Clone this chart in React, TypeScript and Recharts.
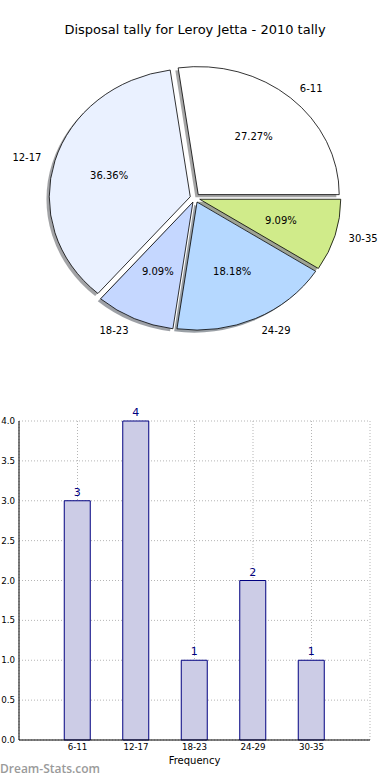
import React from 'react';
import { PieChart, Pie, Cell, BarChart, Bar, XAxis, YAxis, CartesianGrid, LabelList, Tooltip } from 'recharts';

const TITLE = 'Disposal tally for Leroy Jetta - 2010 tally';
const X_LABEL = 'Frequency';
const WATERMARK = 'Dream-Stats.com';
const CATEGORIES = ['6-11', '12-17', '18-23', '24-29', '30-35'];
const COUNTS = [3, 4, 1, 2, 1];
const Y_TICKS = [0, 0.5, 1, 1.5, 2, 2.5, 3, 3.5, 4];

const PIE_COLORS = ['#ffffff', '#eaf1ff', '#c5d7ff', '#b5d8ff', '#d0eb8a'];
const BAR_FILL = '#ccccE6';
const BAR_STROKE = '#000080';
const FONT = '"DejaVu Sans", "Bitstream Vera Sans", sans-serif';

const data = CATEGORIES.map((name, i) => ({ name, value: COUNTS[i] }));

const RY_RATIO = 128 / 141;
const EXPLODE = 0.035;
const SHADOW = 0.02;
const RAD = Math.PI / 180;

function shade(hex: string) {
  const h = (hex || '#ffffff').replace('#', '');
  const r = Math.round(parseInt(h.slice(0, 2), 16) * 0.3);
  const g = Math.round(parseInt(h.slice(2, 4), 16) * 0.3);
  const b = Math.round(parseInt(h.slice(4, 6), 16) * 0.3);
  return `rgb(${r},${g},${b})`;
}

function geom(p: any) {
  const rx = p.outerRadius;
  const ry = rx * RY_RATIO;
  const m = p.midAngle * RAD;
  const ox = p.cx + EXPLODE * rx * Math.cos(m);
  const oy = p.cy - EXPLODE * ry * Math.sin(m);
  return { rx, ry, ox, oy, m };
}

function wedgePath(cx: number, cy: number, rx: number, ry: number, a0: number, a1: number) {
  const x0 = cx + rx * Math.cos(a0 * RAD);
  const y0 = cy - ry * Math.sin(a0 * RAD);
  const x1 = cx + rx * Math.cos(a1 * RAD);
  const y1 = cy - ry * Math.sin(a1 * RAD);
  const large = Math.abs(a1 - a0) > 180 ? 1 : 0;
  return `M${cx},${cy}L${x0},${y0}A${rx},${ry} 0 ${large} 0 ${x1},${y1}Z`;
}

const ShadowShape = (p: any) => {
  const { rx, ry, ox, oy } = geom(p);
  return (
    <path
      d={wedgePath(ox - SHADOW * rx, oy + SHADOW * ry, rx, ry, p.startAngle, p.endAngle)}
      fill={shade(p.fill)}
      fillOpacity={0.5}
      stroke="none"
    />
  );
};

const WedgeShape = (p: any) => {
  const { rx, ry, ox, oy } = geom(p);
  return (
    <path
      d={wedgePath(ox, oy, rx, ry, p.startAngle, p.endAngle)}
      fill={p.fill}
      stroke="#000"
      strokeWidth={0.8}
      strokeLinejoin="round"
    />
  );
};

const PieLabels = (p: any) => {
  const { rx, ry, m } = geom(p);
  const c = Math.cos(m);
  const s = Math.sin(m);
  const nd = 1.1 + EXPLODE;
  const pd = 0.6 + EXPLODE;
  return (
    <g>
      <text
        x={p.cx + nd * rx * c}
        y={p.cy - nd * ry * s}
        textAnchor={c >= 0 ? 'start' : 'end'}
        dominantBaseline="central"
        fontSize={10}
        fontFamily={FONT}
        fill="#000"
      >
        {p.name}
      </text>
      <text
        x={p.cx + pd * rx * c}
        y={p.cy - pd * ry * s}
        textAnchor="middle"
        dominantBaseline="central"
        fontSize={10}
        fontFamily={FONT}
        fill="#000"
      >
        {`${(p.percent * 100).toFixed(2)}%`}
      </text>
    </g>
  );
};

export default function App() {
  return (
    <div style={{ position: 'absolute', left: 0, top: 0, width: 390, height: 780, background: '#fff', fontFamily: FONT }}>
      <div
        style={{
          position: 'absolute',
          left: 0,
          top: 22,
          width: 390,
          textAlign: 'center',
          fontSize: 13,
          lineHeight: '16px',
          color: '#000',
        }}
      >
        {TITLE}
      </div>
      <div style={{ position: 'absolute', left: 0, top: 0 }}>
        <PieChart width={390} height={380} margin={{ top: 0, right: 0, bottom: 0, left: 0 }}>
          <Tooltip defaultIndex={0} content={() => null} cursor={false} />
          <Pie
            data={data}
            dataKey="value"
            nameKey="name"
            cx={195}
            cy={198}
            outerRadius={141}
            startAngle={0}
            endAngle={360}
            isAnimationActive={false}
            shape={ShadowShape}
            activeShape={ShadowShape}
            inactiveShape={ShadowShape}
            label={false}
            labelLine={false}
          >
            {data.map((d, i) => (
              <Cell key={d.name} fill={PIE_COLORS[i]} />
            ))}
          </Pie>
          <Pie
            data={data}
            dataKey="value"
            nameKey="name"
            cx={195}
            cy={198}
            outerRadius={141}
            startAngle={0}
            endAngle={360}
            isAnimationActive={false}
            shape={WedgeShape}
            activeShape={WedgeShape}
            inactiveShape={WedgeShape}
            label={PieLabels}
            labelLine={false}
          >
            {data.map((d, i) => (
              <Cell key={d.name} fill={PIE_COLORS[i]} />
            ))}
          </Pie>
        </PieChart>
      </div>
      <div style={{ position: 'absolute', left: 0, top: 400 }}>
        <BarChart width={390} height={380} data={data} margin={{ top: 21, right: 20, left: 0, bottom: 0 }}>
          <CartesianGrid stroke="#b5b5b5" strokeDasharray="1 2" />
          <XAxis
            dataKey="name"
            height={40}
            padding={{ left: 29.25, right: 29.25 }}
            interval={0}
            tickLine={false}
            tickSize={2}
            tickMargin={2}
            axisLine={{ stroke: '#000' }}
            tick={{ fontSize: 8.7, fill: '#000', fontFamily: FONT }}
            label={{ value: X_LABEL, position: 'insideBottom', offset: 16, fontSize: 10, fill: '#000', fontFamily: FONT }}
          />
          <XAxis
            xAxisId="top"
            orientation="top"
            dataKey="name"
            height={0}
            padding={{ left: 29.25, right: 29.25 }}
            tick={false}
            tickLine={false}
            axisLine={{ stroke: '#000' }}
          />
          <YAxis
            domain={[0, 4]}
            ticks={Y_TICKS}
            interval={0}
            width={19}
            tickFormatter={(v: number) => v.toFixed(1)}
            tickLine={false}
            tickSize={2}
            tickMargin={2}
            axisLine={{ stroke: '#000' }}
            tick={{ fontSize: 8.7, fill: '#000', fontFamily: FONT }}
          />
          <YAxis
            yAxisId="right"
            orientation="right"
            width={0}
            domain={[0, 4]}
            tick={false}
            tickLine={false}
            axisLine={{ stroke: '#000' }}
          />
          <Bar dataKey="value" fill={BAR_FILL} stroke={BAR_STROKE} strokeWidth={1} barSize={26} isAnimationActive={false}>
            <LabelList dataKey="value" position="top" offset={5} fill={BAR_STROKE} fontSize={11} fontFamily={FONT} />
          </Bar>
        </BarChart>
      </div>
      <div
        style={{
          position: 'absolute',
          left: 0,
          top: 762,
          fontSize: 12,
          fontWeight: 600,
          fontFamily: '"Open Sans", sans-serif',
          lineHeight: '14px',
          color: '#9a9a9a',
          whiteSpace: 'nowrap',
        }}
      >
        {WATERMARK}
      </div>
    </div>
  );
}
